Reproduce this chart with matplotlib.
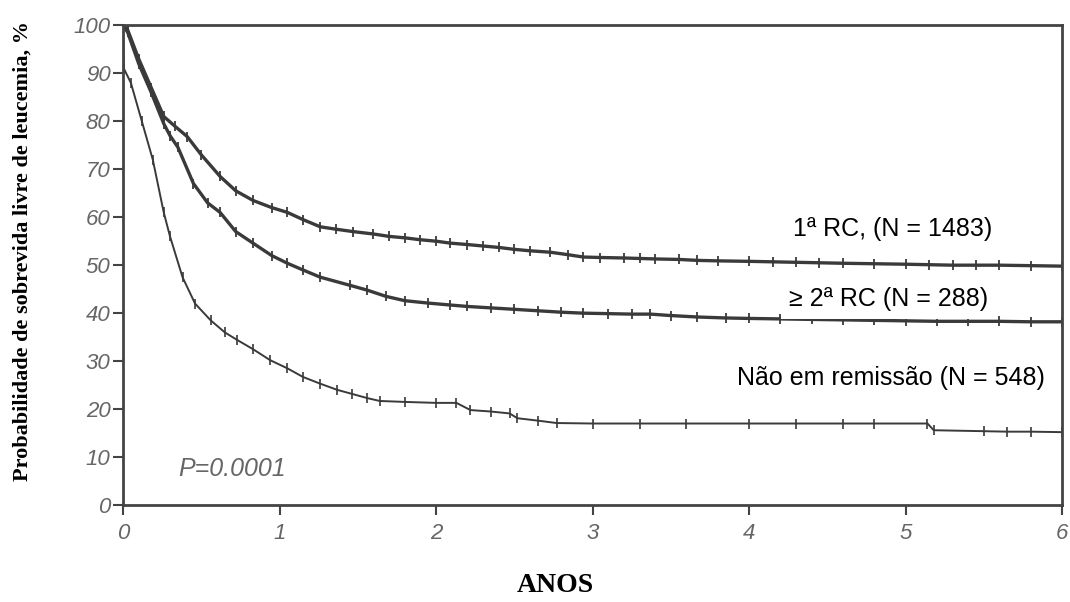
import matplotlib
matplotlib.use('Agg')
import matplotlib.pyplot as plt

# curva 1a RC (N = 1483)
t_rc1 = [0, 0.03, 0.1, 0.18, 0.26, 0.33, 0.41, 0.5, 0.62, 0.72, 0.83, 0.95, 1.05, 1.15,
         1.26, 1.36, 1.47, 1.6, 1.7, 1.8, 1.9, 2.0, 2.09, 2.2, 2.3, 2.4, 2.5, 2.6, 2.73,
         2.84, 2.94, 3.05, 3.2, 3.3, 3.4, 3.55, 3.67, 3.8, 4.0, 4.15, 4.3, 4.45, 4.6,
         4.8, 5.0, 5.15, 5.3, 5.45, 5.6, 5.8, 6.0]
s_rc1 = [100, 99, 93, 87, 81, 79, 76.8, 73, 68.5, 65.5, 63.5, 62, 61, 59.5,
         58, 57.5, 57, 56.5, 56, 55.7, 55.3, 55, 54.6, 54.3, 54, 53.7, 53.3, 53, 52.7,
         52.2, 51.7, 51.6, 51.5, 51.4, 51.3, 51.2, 51, 50.9, 50.8, 50.7, 50.6, 50.5, 50.4,
         50.3, 50.2, 50.1, 50, 50, 50, 49.9, 49.8]

# curva >= 2a RC (N = 288)
t_rc2 = [0, 0.03, 0.1, 0.18, 0.26, 0.3, 0.35, 0.45, 0.54, 0.62, 0.72, 0.83, 0.95, 1.05,
         1.15, 1.26, 1.45, 1.56, 1.68, 1.8, 1.95, 2.09, 2.2, 2.35, 2.5, 2.65, 2.8, 2.94,
         3.1, 3.25, 3.37, 3.5, 3.67, 3.85, 4.0, 4.2, 4.4, 4.6, 4.8, 5.0, 5.2, 5.4, 5.6,
         5.8, 6.0]
s_rc2 = [100, 98.5, 92, 86, 79.5, 77, 74.6, 67, 63, 61, 57, 54.6, 52, 50.4,
         49, 47.5, 45.8, 44.8, 43.5, 42.6, 42.1, 41.7, 41.4, 41.1, 40.8, 40.5, 40.2, 40,
         39.9, 39.8, 39.8, 39.5, 39.2, 39, 38.9, 38.8, 38.7, 38.6, 38.5, 38.4, 38.3, 38.3,
         38.3, 38.2, 38.2]

# curva nao em remissao (N = 548)
t_nr = [0, 0.005, 0.05, 0.12, 0.19, 0.26, 0.30, 0.38, 0.46, 0.56, 0.65, 0.73, 0.83, 0.94,
        1.05, 1.15, 1.26, 1.37, 1.46, 1.56, 1.64, 1.8, 2.0, 2.13, 2.22, 2.35, 2.47, 2.52,
        2.65, 2.77, 3.0, 3.3, 3.6, 4.0, 4.3, 4.6, 4.8, 5.14, 5.18, 5.5, 5.65, 5.8, 6.0]
s_nr = [100, 91, 88, 80, 72, 61, 56, 47.5, 42, 38.5, 36, 34.4, 32.5, 30.2,
        28.5, 26.7, 25.3, 24, 23.2, 22.3, 21.7, 21.5, 21.3, 21.3, 19.8, 19.5, 19.1, 18.1,
        17.6, 17.1, 17, 17, 17, 17, 17, 17, 17, 17, 15.6, 15.4, 15.3, 15.3, 15.2]

xticks = [0, 1, 2, 3, 4, 5, 6]
yticks = [0, 10, 20, 30, 40, 50, 60, 70, 80, 90, 100]

fig = plt.figure(figsize=(10.7, 6.02), dpi=100)
ax = fig.add_axes([0.115, 0.161, 0.8776, 0.797])

c = '#3a3a3a'
ax.plot(t_rc1, s_rc1, color=c, lw=2.4, marker='|', ms=7, mew=1.3, markevery=slice(1, None))
ax.plot(t_rc2, s_rc2, color=c, lw=2.4, marker='|', ms=7, mew=1.3, markevery=slice(1, None))
ax.plot(t_nr, s_nr, color=c, lw=1.4, marker='|', ms=7, mew=1.2, markevery=slice(1, None))

ax.set_xlim(0, 6)
ax.set_ylim(0, 100)
ax.set_xticks(xticks)
ax.set_yticks(yticks)
for sp in ax.spines.values():
    sp.set_color('#444444')
    sp.set_linewidth(2)
ax.tick_params(direction='out', length=7, width=1.5, color='#444444',
               labelcolor='#666666', labelsize=16, pad=2)
ax.tick_params(axis='x', pad=6)
for lab in ax.get_xticklabels() + ax.get_yticklabels():
    lab.set_fontstyle('italic')
    lab.set_family('Liberation Sans')

ax.text(0.35, 7.5, 'P=0.0001', fontsize=18, style='italic', color='#666666',
        family='Liberation Sans', va='center')

box = dict(facecolor='white', edgecolor='none', pad=6)
ax.text(5.553, 57.5, '1ª RC, (N = 1483)', fontsize=18, family='Liberation Sans',
        ha='right', va='center', bbox=box)
ax.text(5.527, 43, '≥ 2ª RC (N = 288)', fontsize=18, family='Liberation Sans',
        ha='right', va='center', bbox=box)
ax.text(5.89, 26.5, 'Não em remissão (N = 548)', fontsize=18, family='Liberation Sans',
        ha='right', va='center', bbox=box)

fig.text(0.021, 0.583, 'Probabilidade de sobrevida livre de leucemia, %', rotation=90,
         ha='center', va='center', fontsize=16, fontweight='bold', family='Liberation Serif')
fig.text(0.519, 0.028, 'ANOS', ha='center', va='center', fontsize=20,
         fontweight='bold', family='Liberation Serif')

fig.savefig('out.png', dpi=100)
